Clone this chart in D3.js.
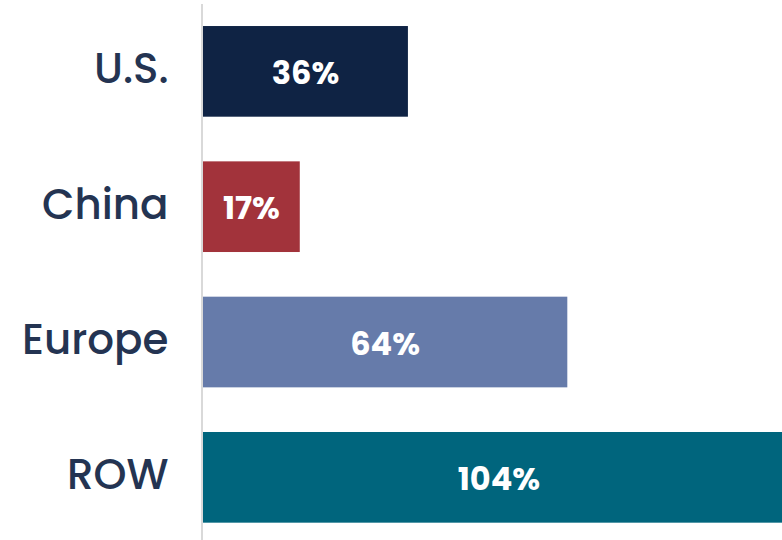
<!DOCTYPE html>
<html>
<head>
<meta charset="utf-8">
<script src="https://cdn.jsdelivr.net/npm/d3@7"></script>
<style>
  html, body { margin: 0; padding: 0; background: #fff; }
  svg { display: block; }
</style>
</head>
<body>
<svg id="chart" width="782" height="540"></svg>
<script>
// Regions and their values (percent)
const regions = ["U.S.", "China", "Europe", "ROW"];
const values = [36, 17, 64, 104];
const barColors = ["#0f2344", "#a2333b", "#667baa", "#00657d"];
const valueLabels = ["36%", "17%", "64%", "104%"];

const width = 782, height = 540;
const svg = d3.select("#chart");

const x = d3.scaleLinear().domain([0, 104]).range([203, 203 + 592]);
const y = d3.scaleBand().domain(regions).range([3.7, 545]).paddingInner(0.33).paddingOuter(0.165);

const data = regions.map((r, i) => ({ region: r, value: values[i], color: barColors[i], label: valueLabels[i] }));

// Bars
svg.append("g").selectAll("rect")
  .data(data)
  .join("rect")
  .attr("x", x(0))
  .attr("y", d => y(d.region))
  .attr("width", d => x(d.value) - x(0))
  .attr("height", y.bandwidth())
  .attr("fill", d => d.color);

// Baseline axis
svg.append("line")
  .attr("x1", 202).attr("x2", 202)
  .attr("y1", 4).attr("y2", height)
  .attr("stroke", "#d9d9d9")
  .attr("stroke-width", 2);

// Category labels
svg.append("g").selectAll("text")
  .data(data)
  .join("text")
  .attr("x", 168.5)
  .attr("y", d => y(d.region) + y.bandwidth() / 2 + 12)
  .attr("text-anchor", "end")
  .attr("font-family", "Poppins, Lato, sans-serif")
  .attr("font-size", 42)
  .attr("font-weight", 500)
  .attr("fill", "#243452")
  .text(d => d.region);

// Value labels inside bars
svg.append("g").selectAll("text")
  .data(data)
  .join("text")
  .attr("x", d => (x(0) + x(d.value)) / 2)
  .attr("y", d => y(d.region) + y.bandwidth() / 2 + 12.5)
  .attr("text-anchor", "middle")
  .attr("font-family", "Poppins, Lato, sans-serif")
  .attr("font-size", 32)
  .attr("font-weight", 700)
  .attr("fill", "#ffffff")
  .text(d => d.label);
</script>
</body>
</html>
